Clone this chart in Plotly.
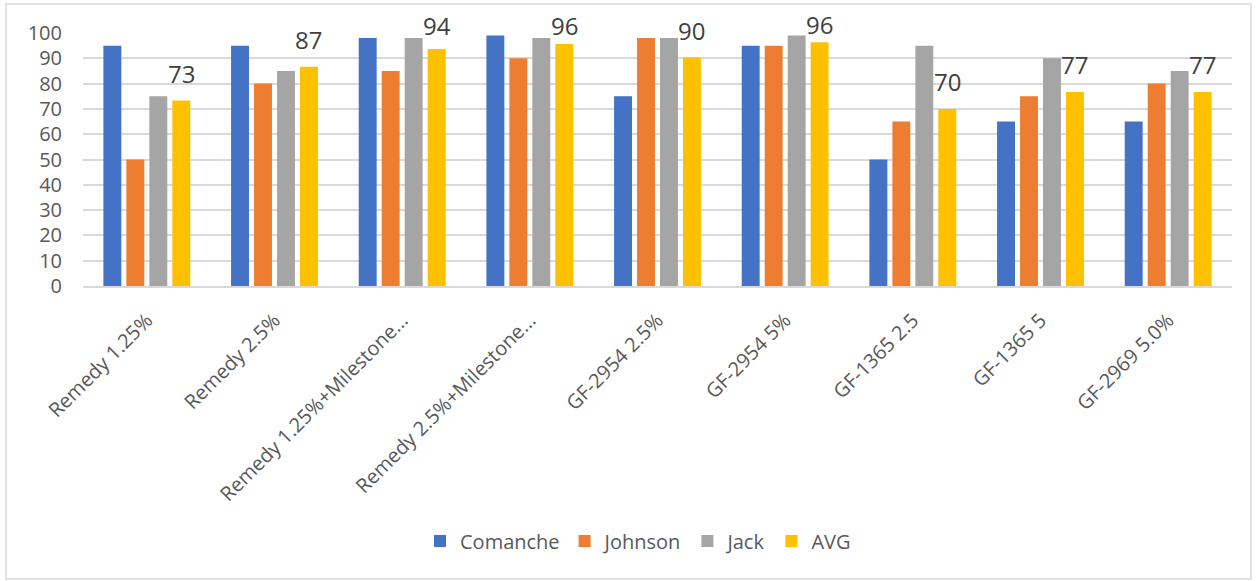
import plotly.graph_objects as go

categories = ["Remedy 1.25%", "Remedy 2.5%", "Remedy 1.25%+Milestone...",
              "Remedy 2.5%+Milestone...", "GF-2954 2.5%", "GF-2954 5%",
              "GF-1365 2.5", "GF-1365 5", "GF-2969 5.0%"]
comanche = [95, 95, 98, 99, 75, 95, 50, 65, 65]
johnson = [50, 80, 85, 90, 98, 95, 65, 75, 80]
jack = [75, 85, 98, 98, 98, 99, 95, 90, 85]
avg = [73.3, 86.7, 93.7, 95.7, 90.3, 96.3, 70.0, 76.7, 76.7]
avg_labels = ["73", "87", "94", "96", "90", "96", "70", "77", "77"]
y_ticks = [0, 10, 20, 30, 40, 50, 60, 70, 80, 90, 100]

series = [("Comanche", comanche, "#4472C4"), ("Johnson", johnson, "#ED7D31"),
          ("Jack", jack, "#A5A5A5"), ("AVG", avg, "#FFC000")]

W, H = 1258, 581
ML, MR, MT, MB = 83, 26, 33, 295
BARGAP, BARGROUPGAP = 0.28, 0.22
YMAX = 100
pw, ph = W - ML - MR, H - MT - MB

fig = go.Figure()
for name, vals, col in series:
    fig.add_trace(go.Bar(x=categories, y=vals, name=name, marker_color=col,
                         marker_line_width=0, hoverinfo="skip"))

# AVG labels above the 4th bar of each group (kept inside the chart's top edge)
off = 1.5 * (1 - BARGAP) / len(series)
for i, (v, t) in enumerate(zip(avg, avg_labels)):
    top_px = MT + ph * (1 - v / YMAX)
    shift = min(27, top_px - 25)
    fig.add_annotation(x=i + off, y=v, xref="x", yref="y", text=t, showarrow=False,
                       yanchor="middle", yshift=shift,
                       font=dict(size=24, color="#404040", family="Open Sans"))

def px_x(p):
    return (p - ML) / pw

def px_y(p):
    return (H - MB - p) / ph

fig.add_shape(type="rect", xref="paper", yref="paper",
              x0=px_x(6), x1=px_x(1251), y0=px_y(579), y1=px_y(4),
              line=dict(color="#D9D9D9", width=1.5), fillcolor="rgba(0,0,0,0)", layer="below")

fig.update_layout(
    width=W, height=H, margin=dict(l=ML, r=MR, t=MT, b=MB, pad=0),
    barmode="group", bargap=BARGAP, bargroupgap=BARGROUPGAP,
    plot_bgcolor="white", paper_bgcolor="white",
    font=dict(family="Open Sans", color="#595959", size=20),
    showlegend=True,
    legend=dict(orientation="h", x=px_x(638), xanchor="center", y=px_y(541), yanchor="middle",
                font=dict(size=20, color="#595959"), traceorder="normal",
                itemwidth=30, bgcolor="rgba(0,0,0,0)"),
)
fig.update_yaxes(range=[0, YMAX], tickvals=y_ticks, showgrid=True, gridcolor="#D9D9D9",
                 gridwidth=1.5, zeroline=False, showline=False, ticks="",
                 tickfont=dict(size=20, color="#595959"), ticklabelstandoff=20)
fig.update_xaxes(tickangle=-45, showline=True, linecolor="#D9D9D9", linewidth=1.5,
                 ticks="", tickfont=dict(size=20, color="#595959"), ticklabelstandoff=13)

fig.write_html("out.html")
